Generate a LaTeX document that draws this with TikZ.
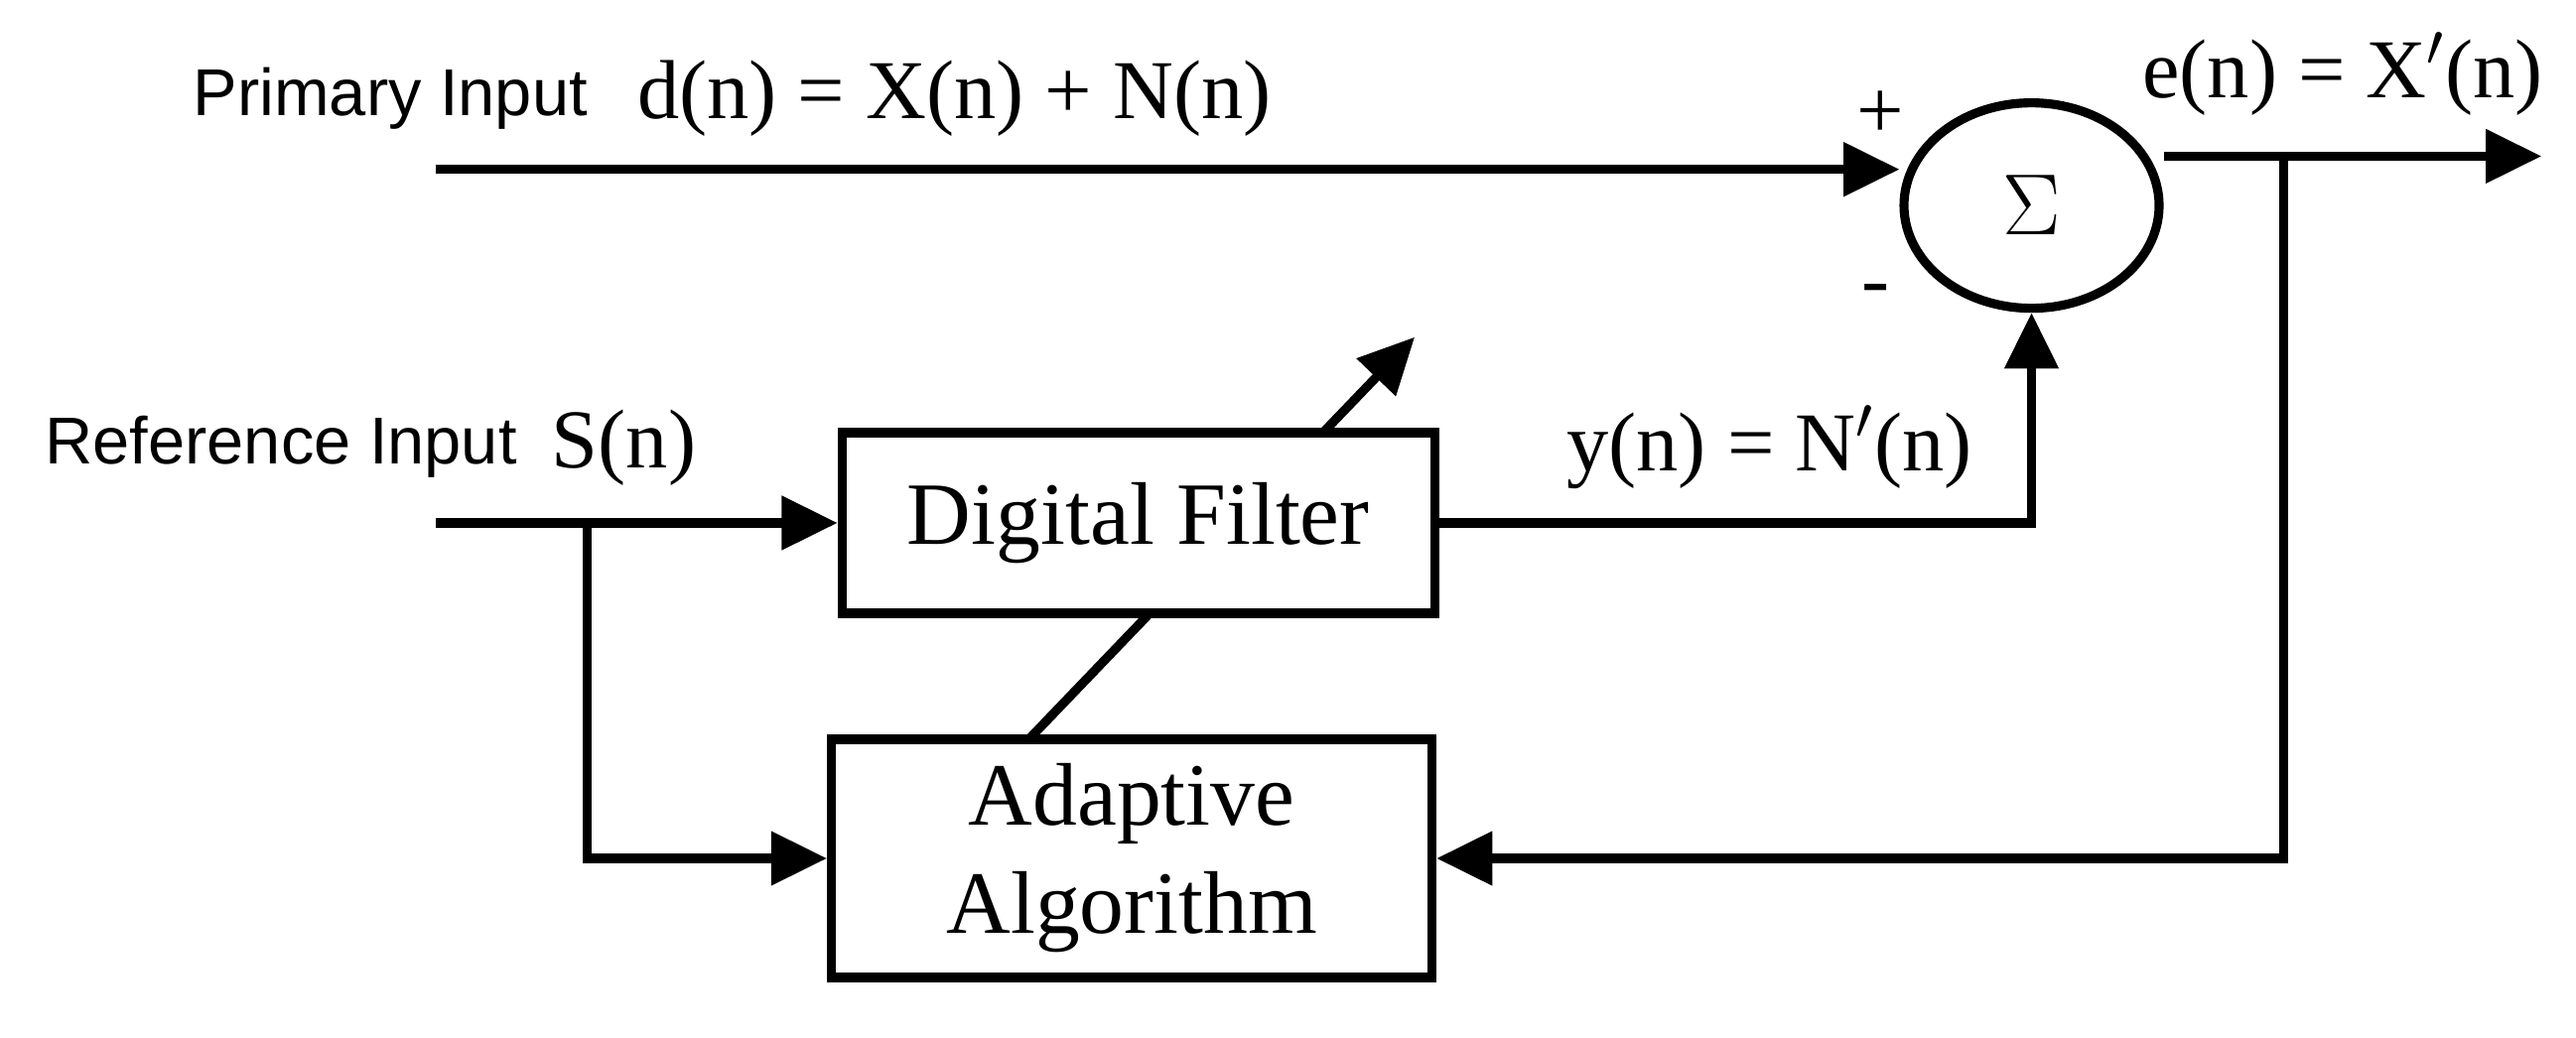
\documentclass[tikz,border=0pt]{standalone}
\usepackage{fontspec}
\setmainfont{Liberation Serif}
\newfontfamily\lblfont{Liberation Sans}
\usetikzlibrary{arrows.meta,shapes.geometric}
\tikzset{
  blk/.style={draw,line width=2.6pt,fill=white,minimum width=5.97cm,align=center,font=\fontsize{25.5}{31}\selectfont},
  sig/.style={line width=2.6pt,-{Triangle[length=16pt,width=15pt]}},
  txt/.style={font=\fontsize{24}{28}\selectfont},
  lbl/.style={font=\lblfont\fontsize{19}{23}\selectfont}
}
\begin{document}
\begin{tikzpicture}[x=0.01657cm,y=-0.01657cm]
    \useasboundingbox (0,0) rectangle (1566,631);
    % the adaptation arrow goes under the filter box
    \coordinate (w0) at (625,450);
    \coordinate (w1) at (860,205);
    \draw[sig] (w0) -- (w1);
    \node[blk,minimum height=1.82cm] (filt) at (692,318) {Digital Filter};
    \node[blk,minimum width=6.05cm,minimum height=2.4cm] (alg) at (688,522) {Adaptive\\Algorithm};
    \node[draw,ellipse,line width=2.6pt,minimum width=2.57cm,minimum height=2.07cm,font=\fontsize{28}{32}\selectfont] (sum) at (1235,125) {$\Sigma$};
    % inputs
    \coordinate (p0) at (265,103);
    \coordinate (r0) at (265,318);
    \coordinate (rb) at (357,318);
    \coordinate (out) at (1545,95);
    \coordinate (fb) at (1388,95);
    \draw[sig] (p0) -- (p0 -| sum.west);
    \draw[sig] (r0) -- (filt.west);
    \draw[sig] (rb) |- (alg.west);
    \draw[sig] (filt.east) -| (sum.south);
    \draw[sig] (sum.east |- out) -- (out);
    \draw[sig] (fb) |- (alg.east);
    % labels
    \node[lbl,anchor=west] (pl) at (110,60) {Primary Input};
    \node[txt,anchor=west] (dn) at (380,60) {d(n) = X(n) + N(n)};
    \node[lbl,anchor=west] (rl) at (20,272) {Reference Input};
    \node[txt,anchor=west] (sn) at (328,272) {S(n)};
    \node[txt,anchor=west] (yn) at (945,272) {y(n) = N$'$(n)};
    \node[txt,anchor=west] (en) at (1295,45) {e(n) = X$'$(n)};
    \node[txt] (pls) at (1143,70) {+};
    \node[txt] (mi) at (1140,180) {-};
\end{tikzpicture}
\end{document}
